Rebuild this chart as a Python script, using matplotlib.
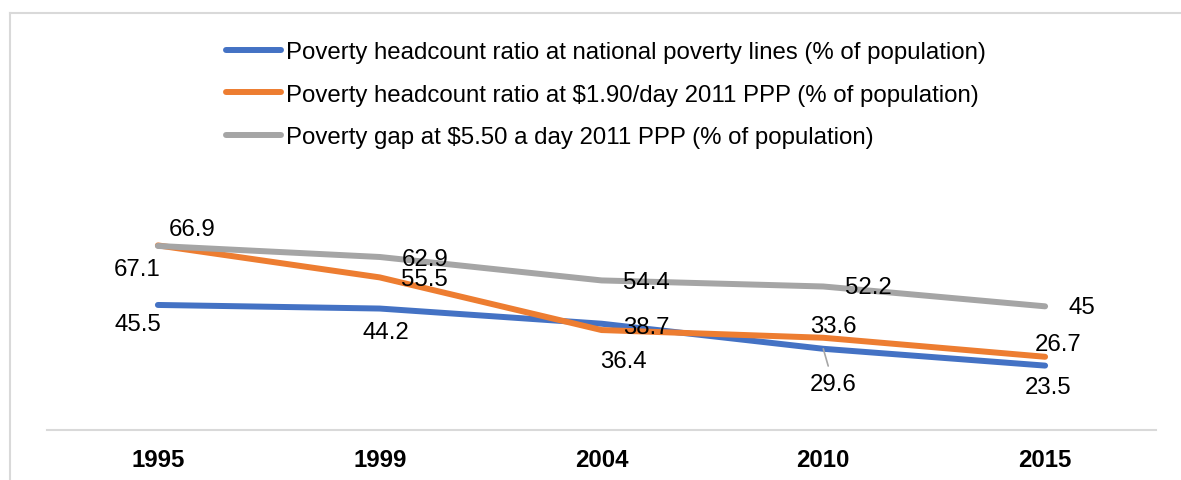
import matplotlib
matplotlib.use("Agg")
import matplotlib.pyplot as plt
from matplotlib.lines import Line2D

years = ["1995", "1999", "2004", "2010", "2015"]
national = [45.5, 44.2, 38.7, 29.6, 23.5]
ppp190 = [67.1, 55.5, 36.4, 33.6, 26.7]
gap550 = [66.9, 62.9, 54.4, 52.2, 45]
series_names = [
    "Poverty headcount ratio at national poverty lines (% of population)",
    "Poverty headcount ratio at $1.90/day 2011 PPP (% of population)",
    "Poverty gap at $5.50 a day 2011 PPP (% of population)",
]
colors = ["#4472C4", "#ED7D31", "#A5A5A5"]

# label offsets in pixels (dx right, dy up)
offsets = [
    [(-20, -19), (6, -23), (45, -3), (10, -35), (3, -21)],
    [(-21, -24), (45, -2), (22, -31), (10, 12), (13, 13)],
    [(34, 17), (45, -2), (45, -1.5), (45, -0.5), (37, -1)],
]

plt.rcParams['font.family'] = ['Liberation Sans', 'DejaVu Sans']
FS = 17.3

W, H = 1181, 481
fig = plt.figure(figsize=(W / 100, H / 100), dpi=100)
fig.patch.set_facecolor("white")

# axes placement in pixels
x0, x1 = 47, 1156
y_zero = 431.4
ppu = 2.757
ymax = 80
ytop = y_zero - ymax * ppu
ax = fig.add_axes([x0 / W, (H - y_zero) / H, (x1 - x0) / W, (y_zero - ytop) / H])
ax.set_xlim(-0.5, len(years) - 0.5)
ax.set_ylim(0, ymax)
for s in ["top", "right", "left"]:
    ax.spines[s].set_visible(False)
ax.spines["bottom"].set_color("#D9D9D9")
ax.spines["bottom"].set_linewidth(1.5)
ax.set_yticks([])
xs = list(range(len(years)))
ax.set_xticks(xs)
ax.set_xticklabels(years, fontsize=FS, fontweight="bold", color="black")
ax.tick_params(axis="x", length=0, pad=13)

data = [national, ppp190, gap550]
handles = []
for i, (vals, c, name) in enumerate(zip(data, colors, series_names)):
    ln, = ax.plot(xs, vals, color=c, lw=4.3, solid_capstyle="round",
                  solid_joinstyle="round", label=name, zorder=2 + i)
    handles.append(ln)
    for j, v in enumerate(vals):
        dx, dy = offsets[i][j]
        label = f"{v:g}"
        if i == 0 and j == 3:
            ax.annotate(label, (j, v), xytext=(dx, dy), textcoords="offset pixels",
                        ha="center", va="center", fontsize=FS, color="black", zorder=10,
                        arrowprops=dict(arrowstyle="-", color="#A6A6A6", lw=1.2,
                                        shrinkA=3, shrinkB=0))
        else:
            ax.annotate(label, (j, v), xytext=(dx, dy), textcoords="offset pixels",
                        ha="center", va="center", fontsize=FS, color="black", zorder=10)

leg = fig.legend(handles=handles, loc="upper left",
                 bbox_to_anchor=(226 / W, (H - 42) / H),
                 frameon=False, fontsize=FS, handlelength=2.3, handletextpad=0.2,
                 labelspacing=0.86, borderpad=0, borderaxespad=0)
for t in leg.get_texts():
    t.set_color("black")

# chart border (light gray)
fig.add_artist(Line2D([10 / W, 10 / W], [0, (H - 14) / H], transform=fig.transFigure,
                      color="#D9D9D9", lw=1.5))
fig.add_artist(Line2D([10 / W, 1], [(H - 14) / H, (H - 14) / H], transform=fig.transFigure,
                      color="#D9D9D9", lw=1.5))

fig.savefig("out.png", dpi=100, facecolor="white")
